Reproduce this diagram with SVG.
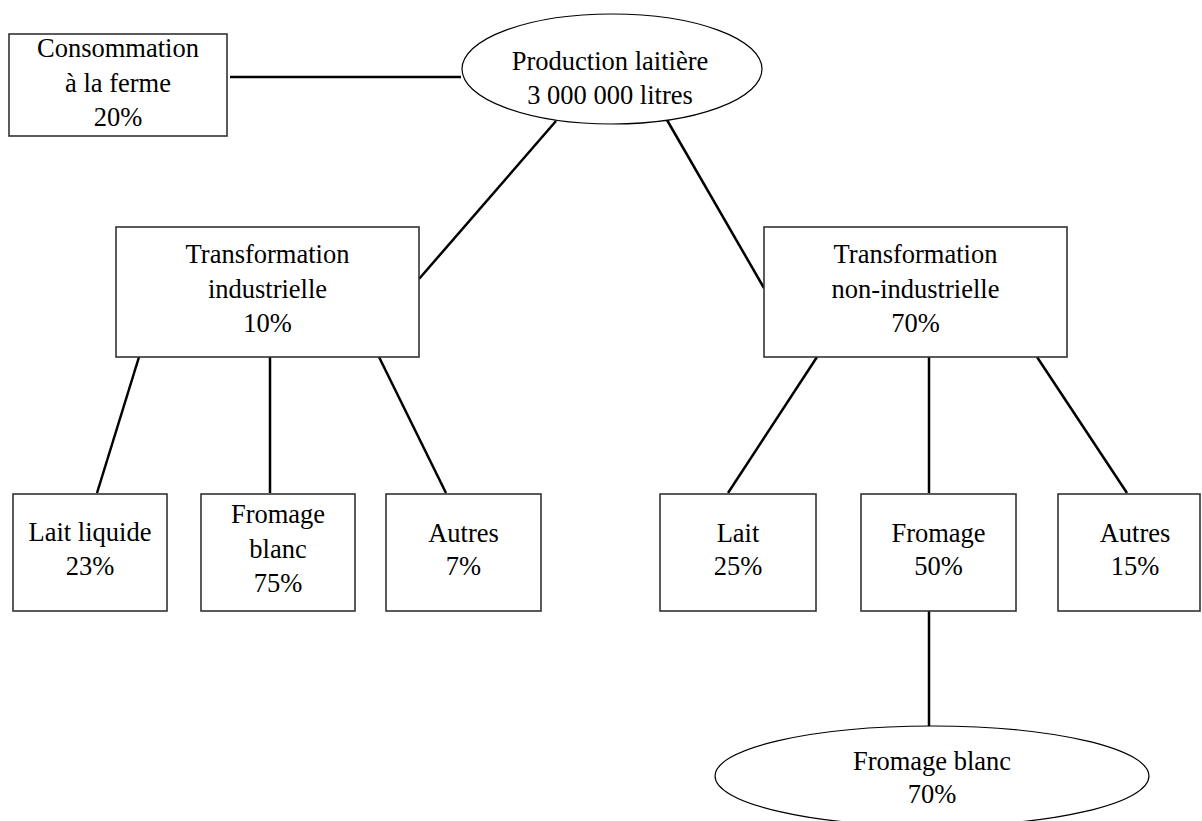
<svg xmlns="http://www.w3.org/2000/svg" width="1202" height="821" viewBox="0 0 1202 821">
<style>
.box{fill:#fff;stroke:#333;stroke-width:1.6}
.ell{fill:#fff;stroke:#000;stroke-width:1.2}
.c{stroke:#000;stroke-width:2.5;fill:none}
text{font-family:"Liberation Serif","Times New Roman",serif;font-size:26.5px;fill:#000;text-anchor:middle}
</style>
<rect width="1202" height="821" fill="#fff"/>
<g id="connectors">
<line class="c" x1="230" y1="77" x2="461" y2="77"/>
<line class="c" x1="556" y1="121" x2="419" y2="279"/>
<line class="c" x1="667" y1="120" x2="764" y2="288"/>
<line class="c" x1="139" y1="357" x2="97" y2="493"/>
<line class="c" x1="270" y1="357" x2="270" y2="493"/>
<line class="c" x1="379" y1="357" x2="446" y2="493"/>
<line class="c" x1="817" y1="357" x2="728" y2="493"/>
<line class="c" x1="929" y1="357" x2="929" y2="493"/>
<line class="c" x1="1037" y1="357" x2="1127" y2="493"/>
<line class="c" x1="929" y1="611" x2="929" y2="726"/>
</g>
<g id="consommation">
<rect class="box" x="9" y="34" width="218" height="102"/>
<text x="118" y="57">Consommation</text>
<text x="118" y="92">à la ferme</text>
<text x="118" y="126">20%</text>
</g>
<g id="production">
<ellipse class="ell" cx="612" cy="69" rx="150" ry="55"/>
<text x="610" y="70">Production laitière</text>
<text x="610" y="104">3 000 000 litres</text>
</g>
<g id="trans-ind">
<rect class="box" x="116" y="227" width="303" height="130"/>
<text x="267.5" y="263">Transformation</text>
<text x="267.5" y="298">industrielle</text>
<text x="267.5" y="332">10%</text>
</g>
<g id="trans-nonind">
<rect class="box" x="764" y="227" width="303" height="130"/>
<text x="915.5" y="263">Transformation</text>
<text x="915.5" y="298">non-industrielle</text>
<text x="915.5" y="332">70%</text>
</g>
<g id="lait-liquide">
<rect class="box" x="13" y="494" width="154" height="117"/>
<text x="90" y="541">Lait liquide</text>
<text x="90" y="575">23%</text>
</g>
<g id="fromage-blanc-ind">
<rect class="box" x="201" y="494" width="154" height="117"/>
<text x="278" y="523">Fromage</text>
<text x="278" y="558">blanc</text>
<text x="278" y="592">75%</text>
</g>
<g id="autres-ind">
<rect class="box" x="386" y="494" width="155" height="117"/>
<text x="463.5" y="542">Autres</text>
<text x="463.5" y="575">7%</text>
</g>
<g id="lait">
<rect class="box" x="660" y="494" width="156" height="117"/>
<text x="738" y="542">Lait</text>
<text x="738" y="575">25%</text>
</g>
<g id="fromage">
<rect class="box" x="861" y="494" width="155" height="117"/>
<text x="938.5" y="542">Fromage</text>
<text x="938.5" y="575">50%</text>
</g>
<g id="autres-nonind">
<rect class="box" x="1058" y="494" width="142" height="117"/>
<text x="1135" y="542">Autres</text>
<text x="1135" y="575">15%</text>
</g>
<g id="fromage-blanc">
<ellipse class="ell" cx="932" cy="776" rx="217" ry="50"/>
<text x="932" y="770">Fromage blanc</text>
<text x="932" y="803">70%</text>
</g>
</svg>
